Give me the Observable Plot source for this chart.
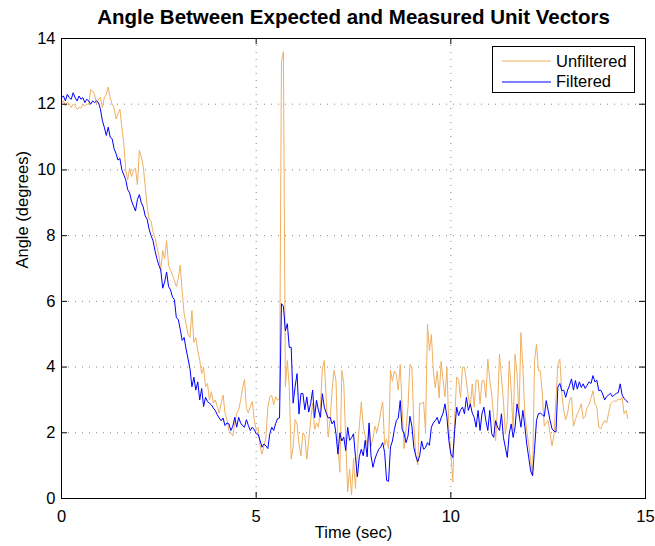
<!DOCTYPE html>
<html><head><meta charset="utf-8">
<script src="https://cdn.jsdelivr.net/npm/d3@7"></script>
<script src="https://cdn.jsdelivr.net/npm/@observablehq/plot@0.6"></script>
<style>
html,body{margin:0;padding:0;background:#fff;}
#wrap{position:relative;width:655px;height:546px;}
#legend{position:absolute;left:492px;top:46px;width:143px;height:47px;box-sizing:border-box;border:1px solid #000;background:#fff;font-family:"Liberation Sans",Arial,sans-serif;font-size:16.5px;color:#000;}
.row{position:absolute;left:0;height:20px;display:flex;align-items:center;}
.row svg{margin-left:9px;margin-right:5px;}
</style></head>
<body><div id="wrap"><div id="legend"></div></div>
<script>
// sampling interval of the recorded signal (seconds)
const dt = 0.05;
const title = "Angle Between Expected and Measured Unit Vectors";
const xLabel = "Time (sec)";
const yLabel = "Angle (degrees)";
const seriesNames = ["Unfiltered", "Filtered"];
const seriesColors = ["#F0B060", "#0000FF"];
const xTicks = [0, 5, 10, 15];
const yTicks = [0, 2, 4, 6, 8, 10, 12, 14];
const xGrid = [5, 10];
const yGrid = [2, 4, 6, 8, 10, 12];

const unfiltered = [
  12.05,12.1,11.95,12.05,12.0,11.9,12.0,11.95,11.85,11.9,11.88,12.0,11.95,12.0,12.0,12.44,12.4,12.3,12.0,12.15,
  12.2,11.9,12.2,12.3,12.52,12.2,12.0,11.9,11.55,11.7,11.85,11.3,10.8,10.0,9.7,10.05,9.8,10.0,10.05,9.55,
  10.6,10.4,10.1,9.5,8.9,8.5,8.45,8.1,7.95,7.65,7.4,6.94,7.55,7.3,7.85,7.1,6.95,6.8,6.64,6.45,
  6.7,7.1,6.3,5.62,5.32,5.0,4.9,5.72,4.75,4.9,4.5,4.2,3.8,4.0,3.4,3.5,3.0,3.25,2.9,3.0,
  2.8,2.6,2.9,3.15,2.6,2.4,2.07,2.0,1.9,2.3,2.6,2.7,2.98,3.35,3.62,2.75,2.6,2.8,2.95,2.4,
  2.1,2.17,1.6,1.35,1.6,1.85,2.78,3.09,3.14,2.85,3.1,2.99,3.05,13.3,13.6,3.4,4.2,3.4,1.2,1.56,
  2.4,2.27,1.66,1.3,2.0,1.9,1.2,1.77,2.38,2.9,2.1,2.3,2.17,2.78,3.95,4.2,3.0,1.87,2.4,3.29,
  3.9,3.6,1.6,0.8,3.9,3.5,1.8,0.2,0.9,0.12,1.22,0.3,1.42,2.2,2.94,2.2,1.9,1.62,2.23,1.6,
  1.83,2.2,2.03,2.28,2.64,2.94,1.62,1.8,1.52,3.9,3.57,3.88,3.78,3.3,4.08,2.74,1.52,2.1,2.8,4.08,
  3.98,2.23,1.3,1.02,2.9,2.89,2.94,2.03,5.3,4.5,4.99,3.88,3.37,3.88,3.06,4.18,3.6,3.1,3.99,2.1,
  1.4,0.5,2.47,3.7,3.6,3.07,3.99,3.99,3.55,3.1,2.78,3.48,2.78,3.6,3.6,2.88,3.58,3.6,3.07,4.24,
  3.58,3.18,2.47,1.76,2.78,4.39,3.68,2.98,1.96,2.37,4.19,3.3,2.07,4.39,3.79,2.5,5.05,3.99,2.57,2.07,
  1.66,1.15,0.69,4.2,4.69,3.89,3.89,3.18,2.2,2.3,2.37,1.96,1.6,1.96,3.0,4.09,4.24,3.2,2.68,2.4,
  2.6,3.0,3.08,2.2,2.4,2.58,2.7,2.88,2.43,2.5,2.78,2.85,3.05,3.28,2.88,2.78,2.17,2.12,2.27,2.37,
  2.3,2.58,2.88,2.93,2.98,2.95,3.03,3.0,3.08,2.58,2.68,2.43
];

const filtered = [
  12.2,12.25,12.1,12.3,12.2,12.15,12.35,12.2,12.1,12.25,12.15,12.2,12.05,12.15,12.1,12.0,12.1,12.05,12.1,12.05,
  11.85,11.5,11.3,11.05,11.3,11.0,10.95,10.65,10.5,10.3,10.35,10.0,9.85,9.7,9.4,9.3,9.05,8.9,8.75,9.1,
  9.25,9.0,8.87,8.6,8.5,8.2,8.0,7.85,7.55,7.3,7.1,6.95,6.4,6.6,6.89,6.45,6.35,6.13,6.05,5.5,
  5.45,5.15,4.81,4.9,4.55,4.25,3.95,3.4,3.69,3.3,3.55,3.0,3.35,2.8,3.08,2.95,2.9,2.85,2.75,2.68,
  2.55,2.45,2.37,2.45,2.22,2.3,2.27,2.07,2.2,2.47,2.17,2.47,2.3,2.22,2.17,2.4,2.22,2.07,2.17,2.1,
  1.97,1.95,1.77,1.56,1.66,1.6,1.52,1.97,2.17,2.07,2.28,2.43,2.45,5.93,5.85,5.1,5.32,4.6,4.6,2.9,
  3.4,3.8,2.57,3.19,3.2,2.7,3.09,2.63,2.89,3.3,2.45,2.99,2.68,2.47,3.19,2.78,2.6,2.45,2.47,2.27,
  2.37,1.97,1.35,2.0,1.75,1.87,1.46,2.17,1.77,1.85,1.97,1.27,0.66,1.27,1.5,1.3,1.77,1.27,2.3,1.3,
  0.95,1.2,1.37,1.5,1.57,1.7,1.4,0.55,0.52,1.57,1.75,2.1,2.37,2.45,2.98,2.1,1.97,1.7,1.9,2.5,
  2.2,1.55,1.3,1.12,1.3,1.75,1.5,1.55,1.7,1.62,2.17,2.3,2.37,2.47,2.27,2.45,2.6,2.88,2.47,1.76,
  1.35,1.25,2.1,2.78,2.52,2.7,2.78,2.58,3.08,2.68,2.88,2.6,2.47,2.17,2.68,2.07,2.58,2.78,2.37,2.07,
  2.68,1.97,1.86,2.37,2.17,2.07,2.58,1.86,1.56,1.25,1.97,2.27,1.86,2.17,2.88,2.58,2.17,2.68,2.2,1.66,
  1.25,0.84,0.69,1.5,2.37,2.58,2.6,2.55,2.5,2.98,2.68,2.37,2.12,2.05,2.02,3.4,3.5,3.28,3.3,3.08,
  3.3,3.45,3.64,3.3,3.59,3.33,3.55,3.38,3.49,3.35,3.45,3.55,3.5,3.74,3.55,3.6,3.28,3.3,3.18,3.0,
  3.1,3.15,3.2,3.1,3.15,3.2,3.22,3.49,3.15,3.05,2.98,2.93
];

const toRows = (vals, name) => vals.map((v, i) => ({t: i * dt, angle: v, series: name}));
const rowsU = toRows(unfiltered, seriesNames[0]);
const rowsF = toRows(filtered, seriesNames[1]);

const W = 655, H = 546;
const mL = 61, mR = 10, mT = 38, mB = 48;
const frameW = W - mL - mR, frameH = H - mT - mB;
const tick = 6;
const font = "'Liberation Sans', Arial, Helvetica, sans-serif";

const chart = Plot.plot({
  width: W, height: H,
  marginLeft: mL, marginRight: mR, marginTop: mT, marginBottom: mB,
  style: {fontFamily: font, fontSize: "16.5px", color: "#000", background: "#fff", overflow: "visible"},
  x: {domain: [0, 15], ticks: xTicks, tickSize: 0, tickPadding: 12, label: null},
  y: {domain: [0, 14], ticks: yTicks, tickSize: 0, tickPadding: 6, label: null},
  marks: [
    Plot.ruleX(xGrid, {stroke: "#888", strokeWidth: 1, strokeDasharray: "1,6"}),
    Plot.ruleY(yGrid, {stroke: "#888", strokeWidth: 1, strokeDasharray: "1,6"}),
    Plot.line(rowsU, {x: "t", y: "angle", stroke: seriesColors[0], strokeWidth: 1}),
    Plot.line(rowsF, {x: "t", y: "angle", stroke: seriesColors[1], strokeWidth: 1}),
    Plot.ruleX(xTicks, {insetTop: frameH - tick, stroke: "#000"}),
    Plot.ruleX(xTicks, {insetBottom: frameH - tick, stroke: "#000"}),
    Plot.ruleY(yTicks, {insetRight: frameW - tick, stroke: "#000"}),
    Plot.ruleY(yTicks, {insetLeft: frameW - tick, stroke: "#000"}),
    Plot.frame({stroke: "#000", strokeWidth: 1}),
    Plot.text([title], {text: d => d, frameAnchor: "top", lineAnchor: "middle", dy: -21, fontSize: 20.5, fontWeight: "bold", fill: "#000"}),
    Plot.text([xLabel], {text: d => d, frameAnchor: "bottom", lineAnchor: "middle", dy: 34, fontSize: 16.5, fill: "#000"}),
    Plot.text([yLabel], {text: d => d, frameAnchor: "left", lineAnchor: "middle", dx: -39, rotate: -90, fontSize: 16.5, fill: "#000"})
  ]
});
const wrap = document.getElementById("wrap");
wrap.insertBefore(chart, wrap.firstChild);

// legend
const legend = document.getElementById("legend");
seriesNames.forEach((name, i) => {
  const row = document.createElement("div");
  row.className = "row";
  row.style.top = (4 + i * 20.5) + "px";
  const ns = "http://www.w3.org/2000/svg";
  const s = document.createElementNS(ns, "svg");
  s.setAttribute("width", 49); s.setAttribute("height", 10);
  const l = document.createElementNS(ns, "line");
  l.setAttribute("x1", 0); l.setAttribute("x2", 49); l.setAttribute("y1", 5); l.setAttribute("y2", 5);
  l.setAttribute("stroke", seriesColors[i]); l.setAttribute("stroke-width", 1);
  s.appendChild(l);
  row.appendChild(s);
  const sp = document.createElement("span");
  sp.textContent = name;
  row.appendChild(sp);
  legend.appendChild(row);
});
</script>
</body></html>
